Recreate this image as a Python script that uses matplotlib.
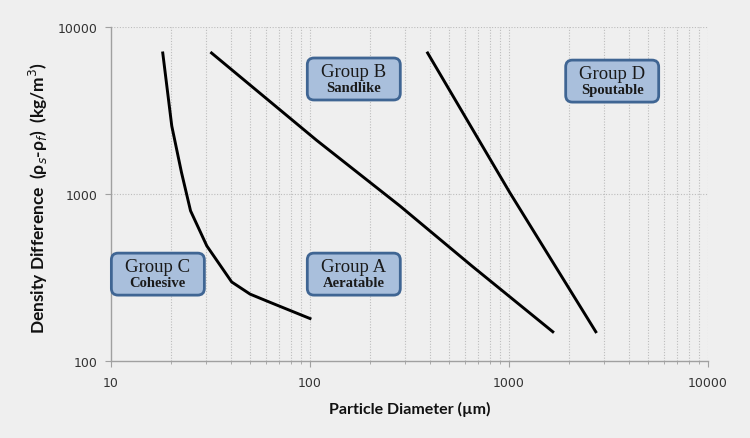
import matplotlib
matplotlib.use("Agg")
import matplotlib.pyplot as plt
from matplotlib.patches import FancyBboxPatch
from matplotlib.ticker import LogLocator, NullFormatter, FixedLocator

# Data
cohesive_x = [18.2, 20.2, 22.6, 25.1, 30.3, 40.4, 50, 63, 100]
cohesive_y = [7000, 2560, 1350, 795, 490, 298, 252, 225, 180]
ab_x = [32, 108, 283, 650, 1660]
ab_y = [7000, 2100, 850, 372, 150]
bd_x = [390, 1010, 2730]
bd_y = [7000, 1020, 150]
x_ticks = [10, 100, 1000, 10000]
y_ticks = [100, 1000, 10000]
groups = ["Group C", "Group A", "Group B", "Group D"]
subtitles = ["Cohesive", "Aeratable", "Sandlike", "Spoutable"]
# box centres in data coordinates
box_x = [17.2, 166, 166, 3300]
box_y = [332, 332, 4890, 4750]

bg = "#efefef"
fig = plt.figure(figsize=(7.5, 4.39), dpi=100, facecolor=bg)
ax = fig.add_axes([0.148, 0.175, 0.796, 0.761], facecolor=bg)
ax.set_xscale("log")
ax.set_yscale("log")
ax.set_xlim(10, 10000)
ax.set_ylim(100, 10000)

# grid
minor_x = [m * 10 ** k for k in range(1, 4) for m in range(2, 10)]
for v in minor_x + x_ticks[1:]:
    ax.axvline(v, color="#bdbdbd", lw=0.8, ls=(0, (1, 1.5)), zorder=0)
for v in y_ticks[1:]:
    ax.axhline(v, color="#bdbdbd", lw=0.8, ls=(0, (1, 1.5)), zorder=0)

ax.plot(cohesive_x, cohesive_y, color="black", lw=2.1, zorder=3)
ax.plot(ab_x, ab_y, color="black", lw=2.1, zorder=3)
ax.plot(bd_x, bd_y, color="black", lw=2.1, zorder=3)

for sp in ["top", "right"]:
    ax.spines[sp].set_visible(False)
for sp in ["left", "bottom"]:
    ax.spines[sp].set_color("#a0a0a0")
    ax.spines[sp].set_linewidth(1.0)

ax.xaxis.set_major_locator(FixedLocator(x_ticks))
ax.yaxis.set_major_locator(FixedLocator(y_ticks))
ax.xaxis.set_minor_locator(LogLocator(base=10, subs=range(2, 10)))
ax.yaxis.set_minor_locator(FixedLocator([]))
ax.xaxis.set_minor_formatter(NullFormatter())
ax.set_xticklabels([str(v) for v in x_ticks])
ax.set_yticklabels([str(v) for v in y_ticks])
ax.tick_params(axis="both", which="major", length=4, width=0.8, color="#a0a0a0",
               labelsize=9, labelcolor="#333333", direction="out")
ax.tick_params(axis="x", which="major", pad=7)
ax.tick_params(axis="y", which="major", pad=6)
ax.tick_params(axis="x", which="minor", length=2, width=0.6, color="#a0a0a0", direction="out")

ax.set_xlabel("Particle Diameter (µm)", fontsize=11.5, fontweight="bold",
              family=["Lato", "DejaVu Sans"], color="#111111")
ax.xaxis.set_label_coords(0.5, -0.12)
ax.set_ylabel("Density Difference  (ρ$_s$-ρ$_f$)  (kg/m$^3$)", fontsize=12.5,
              fontweight="bold", family=["Lato", "DejaVu Sans"], color="#111111")
ax.yaxis.set_label_coords(-0.103, 0.49)

# group boxes
w_px, h_px = 93, 42
for g, s, bx, by in zip(groups, subtitles, box_x, box_y):
    disp = ax.transData.transform((bx, by))
    fx, fy = fig.transFigure.inverted().transform(disp)
    w = w_px / 750
    h = h_px / 439
    box = FancyBboxPatch((fx - w / 2, fy - h / 2), w, h,
                         boxstyle="round,pad=0,rounding_size=0.009",
                         mutation_aspect=750 / 439,
                         transform=fig.transFigure, facecolor="#a9bfdc",
                         edgecolor="#3f6593", lw=2.0, zorder=5)
    fig.patches.append(box)
    fig.text(fx, fy + 0.018, g, ha="center", va="center", fontsize=13.5,
             family="Liberation Serif", color="#1a1a1a", zorder=6)
    fig.text(fx, fy - 0.020, s, ha="center", va="center", fontsize=10.5,
             family="Liberation Serif", fontweight="bold", color="#1a1a1a", zorder=6)

fig.savefig("out.png", dpi=100, facecolor=bg)
